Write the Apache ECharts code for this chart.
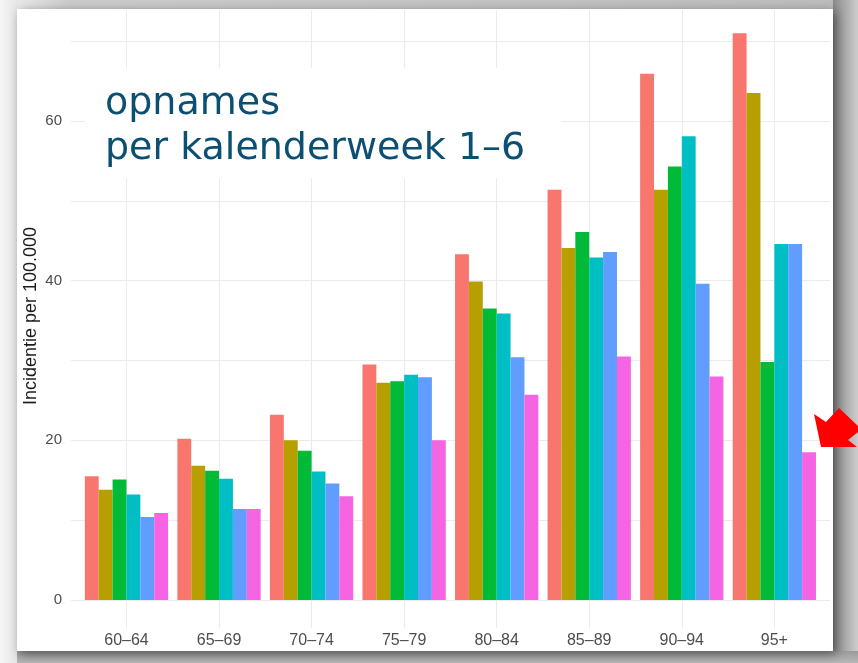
<!DOCTYPE html>
<html><head><meta charset="utf-8">
<script src="https://cdn.jsdelivr.net/npm/echarts@6/dist/echarts.min.js"></script>
<style>html,body{margin:0;padding:0;background:#c8c8c8}#c{width:858px;height:663px}</style>
</head><body><div id="c"></div>
<script>
// ---- data ----
const categories = ['60–64','65–69','70–74','75–79','80–84','85–89','90–94','95+'];
const weeks = ['week 1','week 2','week 3','week 4','week 5','week 6'];
const week1 = [15.5, 20.2, 23.2, 29.5, 43.3, 51.4, 65.9, 71.0];
const week2 = [13.8, 16.8, 20.0, 27.2, 39.9, 44.1, 51.4, 63.5];
const week3 = [15.1, 16.2, 18.7, 27.4, 36.5, 46.1, 54.3, 29.8];
const week4 = [13.2, 15.2, 16.1, 28.2, 35.9, 42.9, 58.1, 44.6];
const week5 = [10.4, 11.4, 14.6, 27.9, 30.4, 43.6, 39.6, 44.6];
const week6 = [10.9, 11.4, 13.0, 20.0, 25.7, 30.5, 28.0, 18.5];
const yTicks = [0, 20, 40, 60];
const yMax = 73.9;
const titleLines = ['opnames', 'per kalenderweek 1–6'];
const yTitle = 'Incidentie per 100.000';

const seriesData = [week1, week2, week3, week4, week5, week6];
const colors = ['#F8766D', '#B79F00', '#00BA38', '#00BFC4', '#619CFF', '#F564E3'];
const grid = '#ebebeb';

const chart = echarts.init(document.getElementById('c'), null, {renderer: 'canvas'});
const option = {
  animation: false,
  backgroundColor: '#c6c6c6',
  grid: [
    {left: 71, right: 28, top: 10, bottom: 63},
    {left: 80.2, right: 37.4, top: 10, bottom: 63},
    {left: 126.5, right: 83.7, top: 10, bottom: 35}
  ],
  xAxis: [
    {gridIndex: 0, type: 'value', min: 0, max: 1, show: false},
    {gridIndex: 1, type: 'category', data: categories, show: false},
    {gridIndex: 2, type: 'category', data: categories, boundaryGap: false,
     axisLine: {show: false}, axisTick: {show: false},
     splitLine: {show: true, lineStyle: {color: grid, width: 1}},
     axisLabel: {color: '#4d4d4d', fontSize: 16, fontFamily: 'Liberation Sans', margin: 5}}
  ],
  yAxis: [
    {gridIndex: 0, type: 'value', min: 0, max: yMax, interval: 10,
     axisLine: {show: false}, axisTick: {show: false},
     splitLine: {show: true, showMaxLine: false, lineStyle: {color: grid, width: 1}},
     axisLabel: {showMaxLabel: false, formatter: v => yTicks.includes(v) ? String(v) : '',
                 color: '#4d4d4d', fontSize: 15, fontFamily: 'Liberation Sans', margin: 9}},
    {gridIndex: 1, type: 'value', min: 0, max: yMax, show: false},
    {gridIndex: 2, type: 'value', min: 0, max: 1, show: false}
  ],
  series: seriesData.map((d, i) => ({
    type: 'bar', name: weeks[i], xAxisIndex: 1, yAxisIndex: 1, data: d,
    barWidth: '15%', barGap: '0%', itemStyle: {color: colors[i]},
    emphasis: {disabled: true}, silent: true
  })),
  graphic: [
    {type: 'rect', z: -20, shape: {x: 0, y: 0, width: 858, height: 663}, style: {fill: '#c6c6c6'}},
    {type: 'rect', z: -19, shape: {x: 0, y: 0, width: 858, height: 12},
     style: {fill: new echarts.graphic.LinearGradient(0, 0, 1, 0, [
       {offset: 0, color: '#f2f2f2'}, {offset: 0.08, color: '#cccccc'}, {offset: 1, color: '#bcbcbc'}])}},
    {type: 'rect', z: -19, shape: {x: 833, y: 0, width: 25, height: 663},
     style: {fill: new echarts.graphic.LinearGradient(0, 0, 1, 0, [
       {offset: 0, color: '#8a8a8a'}, {offset: 1, color: '#cdcdcd'}])}},
    {type: 'rect', z: -19, shape: {x: 0, y: 651, width: 858, height: 12},
     style: {fill: new echarts.graphic.LinearGradient(0, 0, 0, 1, [
       {offset: 0, color: '#9a9a9a'}, {offset: 1, color: '#b8b8b8'}])}},
    {type: 'rect', z: -19, shape: {x: 0, y: 0, width: 17, height: 663},
     style: {fill: new echarts.graphic.LinearGradient(0, 0, 1, 0, [
       {offset: 0, color: '#f6f6f6'}, {offset: 1, color: '#e6e6e6'}])}},
    {type: 'rect', z: -18, shape: {x: 17, y: 9, width: 816, height: 642},
     style: {fill: '#ffffff', shadowBlur: 10, shadowOffsetX: 3, shadowOffsetY: 3, shadowColor: 'rgba(0,0,0,0.45)'}},
    {type: 'rect', z: 5, shape: {x: 85, y: 68, width: 476, height: 110}, style: {fill: '#ffffff'}},
    {type: 'text', z: 6, x: 105, y: 104,
     style: {text: titleLines[0], fill: '#0b4f72', fontSize: 38, fontFamily: 'DejaVu Sans', align: 'left', verticalAlign: 'middle'}},
    {type: 'text', z: 6, x: 105, y: 149,
     style: {text: titleLines[1], fill: '#0b4f72', fontSize: 38, fontFamily: 'DejaVu Sans', align: 'left', verticalAlign: 'middle'}},
    {type: 'text', z: 6, x: 31, y: 316, rotation: Math.PI / 2,
     style: {text: yTitle, fill: '#1a1a1a', fontSize: 18, fontFamily: 'Liberation Sans', align: 'center', verticalAlign: 'middle'}},
    {type: 'polygon', z: 10,
     shape: {points: [[821, 447], [814, 414], [826, 422], [839, 408], [858, 426], [858, 432], [848, 440], [857, 447]]},
     style: {fill: '#ff0000'}}
  ]
};
chart.setOption(option);
</script>
</body></html>
